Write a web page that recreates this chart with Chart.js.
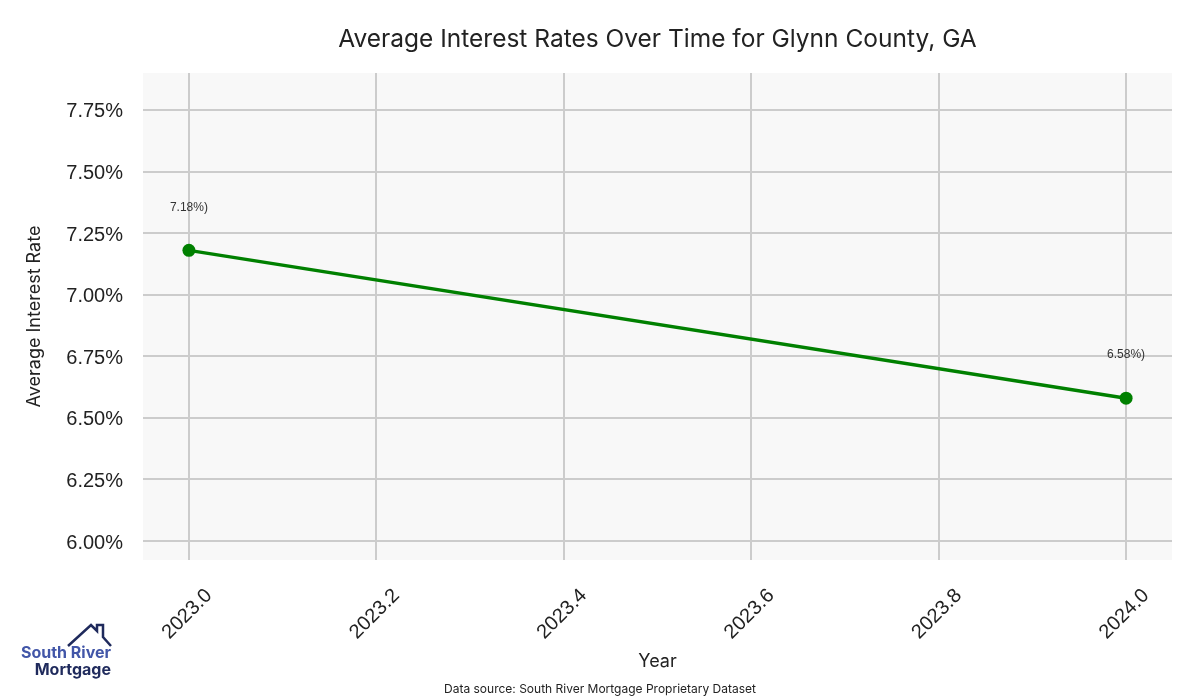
<!DOCTYPE html>
<html>
<head>
<meta charset="utf-8">
<script src="https://cdn.jsdelivr.net/npm/chart.js@4.4.1/dist/chart.umd.min.js"></script>
<style>
  html, body { margin: 0; padding: 0; background: #ffffff; }
  #wrap { width: 1200px; height: 700px; }
</style>
</head>
<body>
<div id="wrap"><canvas id="rateChart" width="1200" height="700"></canvas></div>
<script>
// data
const years = [2023, 2024];
const rates = [7.18, 6.58];
const pointLabels = ['7.18%)', '6.58%)'];
const xTicks = [2023.0, 2023.2, 2023.4, 2023.6, 2023.8, 2024.0];
const yTicks = [6.00, 6.25, 6.50, 6.75, 7.00, 7.25, 7.50, 7.75];

const titleText = 'Average Interest Rates Over Time for Glynn County, GA';
const xTitle = 'Year';
const yTitle = 'Average Interest Rate';
const sourceText = 'Data source: South River Mortgage Proprietary Dataset';

// plot background + all the extra text
const decorPlugin = {
    id: 'decor',
    beforeDraw(chart) {
        const { ctx, chartArea } = chart;
        ctx.save();
        ctx.fillStyle = '#f8f8f8';
        ctx.fillRect(chartArea.left, chartArea.top, chartArea.right - chartArea.left, chartArea.bottom - chartArea.top);
        ctx.restore();
    },
    afterDraw(chart) {
        const { ctx, chartArea } = chart;
        const cx = (chartArea.left + chartArea.right) / 2;
        ctx.save();
        ctx.fillStyle = '#222';
        ctx.textAlign = 'center';
        ctx.textBaseline = 'middle';

        ctx.font = '24.5px Inter, "DejaVu Sans", sans-serif';
        ctx.fillText(titleText, cx, 40);

        ctx.font = '18px Inter, "DejaVu Sans", sans-serif';
        ctx.fillText(xTitle, cx, 662);

        ctx.save();
        ctx.translate(35, (chartArea.top + chartArea.bottom) / 2);
        ctx.rotate(-Math.PI / 2);
        ctx.fillText(yTitle, 0, 0);
        ctx.restore();

        ctx.font = '12px Inter, "DejaVu Sans", sans-serif';
        ctx.fillText(sourceText, 600, 689);

        // value labels over the points
        const meta = chart.getDatasetMeta(0);
        ctx.font = '12px "Liberation Sans", Arial, sans-serif';
        ctx.fillStyle = '#333';
        meta.data.forEach((pt, i) => {
            ctx.fillText(pointLabels[i], pt.x, pt.y - 43);
        });

        // logo
        ctx.strokeStyle = '#1f2a5c';
        ctx.lineWidth = 2.5;
        ctx.lineJoin = 'miter';
        ctx.beginPath();
        ctx.moveTo(68, 646);
        ctx.lineTo(91, 625);
        ctx.lineTo(97, 631);
        ctx.lineTo(97, 625);
        ctx.lineTo(103, 625);
        ctx.lineTo(103, 637);
        ctx.lineTo(111, 646);
        ctx.stroke();
        ctx.textAlign = 'right';
        ctx.font = 'bold 16px Inter, "DejaVu Sans", sans-serif';
        ctx.fillStyle = '#4256a8';
        ctx.fillText('South River', 111, 653);
        ctx.fillStyle = '#1f2a5c';
        ctx.fillText('Mortgage', 111, 670);
        ctx.restore();
    }
};

const ctx = document.getElementById('rateChart');

new Chart(ctx, {
    type: 'line',
    data: {
        datasets: [{
            label: yTitle,
            data: years.map((y, i) => ({ x: y, y: rates[i] })),
            borderColor: '#008000',
            backgroundColor: '#008000',
            borderWidth: 3.5,
            pointRadius: 6.5,
            pointHoverRadius: 6.5,
            pointBackgroundColor: '#008000',
            pointBorderWidth: 0,
            tension: 0
        }]
    },
    options: {
        responsive: false,
        animation: false,
        layout: {
            padding: { top: 73, right: 28, left: 0, bottom: 0 }
        },
        plugins: {
            legend: { display: false },
            tooltip: { enabled: false },
            title: { display: false }
        },
        scales: {
            x: {
                type: 'linear',
                min: 2022.951,
                max: 2024.049,
                afterFit(scale) { scale.height = 140; },
                afterBuildTicks(scale) { scale.ticks = xTicks.map(v => ({ value: v })); },
                border: { display: false },
                grid: { color: '#cccccc', lineWidth: 2, drawTicks: false },
                ticks: {
                    padding: 24,
                    labelOffset: 20,
                    minRotation: 45,
                    maxRotation: 45,
                    color: '#222',
                    font: { family: '"Liberation Sans", Arial, sans-serif', size: 20 },
                    callback: v => Number(v).toFixed(1)
                }
            },
            y: {
                min: 5.923,
                max: 7.9,
                afterFit(scale) { scale.width = 143; },
                afterBuildTicks(scale) { scale.ticks = yTicks.map(v => ({ value: v })); },
                border: { display: false },
                grid: { color: '#cccccc', lineWidth: 2, drawTicks: false },
                ticks: {
                    padding: 20,
                    labelOffset: 2,
                    color: '#222',
                    font: { family: '"Liberation Sans", Arial, sans-serif', size: 20 },
                    callback: v => Number(v).toFixed(2) + '%'
                }
            }
        }
    },
    plugins: [decorPlugin]
});
</script>
</body>
</html>
